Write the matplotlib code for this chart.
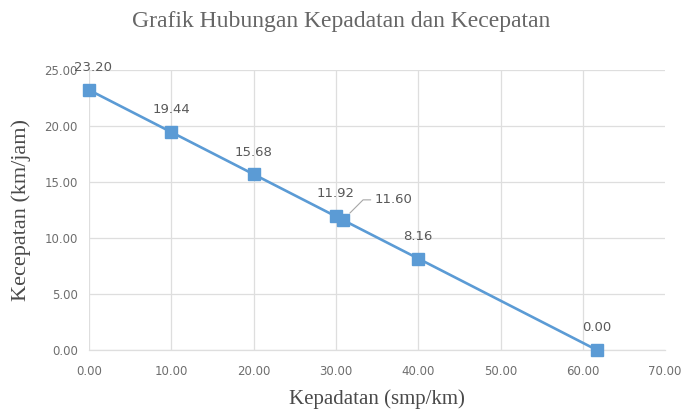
import matplotlib.pyplot as plt

# Density (smp/km) and speed (km/jam) observations
kepadatan = [0.00, 10.00, 20.00, 30.00, 30.85, 40.00, 61.70]
kecepatan = [23.20, 19.44, 15.68, 11.92, 11.60, 8.16, 0.00]
x_ticks = [0, 10, 20, 30, 40, 50, 60, 70]
y_ticks = [0, 5, 10, 15, 20, 25]

line_color = "#5B9BD5"
tick_color = "#6E6E6E"
label_color = "#595959"
grid_color = "#DEDEDE"

fig = plt.figure(figsize=(6.85, 4.12), dpi=100)
ax = fig.add_axes([0.130, 0.1505, 0.841, 0.680])

ax.plot(kepadatan, kecepatan, color=line_color, linewidth=1.9,
        marker="s", markersize=9, markerfacecolor=line_color,
        markeredgecolor=line_color, zorder=3, clip_on=False)

ax.set_xlim(0, 70)
ax.set_ylim(0, 25)
ax.set_xticks(x_ticks)
ax.set_yticks(y_ticks)
ax.set_xticklabels([f"{v:.2f}" for v in x_ticks])
ax.set_yticklabels([f"{v:.2f}" for v in y_ticks])
ax.tick_params(axis="x", length=0, labelsize=8.5, colors=tick_color, pad=11)
ax.tick_params(axis="y", length=0, labelsize=8.5, colors=tick_color, pad=8)
for lbl in ax.get_xticklabels() + ax.get_yticklabels():
    lbl.set_fontfamily("DejaVu Sans")

ax.grid(True, color=grid_color, linewidth=0.9)
ax.get_xgridlines()[-1].set_visible(False)
ax.set_axisbelow(True)
for side in ["top", "right", "left"]:
    ax.spines[side].set_visible(False)
ax.spines["bottom"].set_color(grid_color)
ax.spines["bottom"].set_linewidth(0.9)

# Value labels above each point
offsets = {0: (3, 16), 1: (0, 16), 2: (0, 16), 3: (0, 16.5), 5: (0, 16), 6: (0, 16.5)}
for i, (xv, yv) in enumerate(zip(kepadatan, kecepatan)):
    if i == 4:
        ax.annotate(f"{yv:.2f}", xy=(xv, yv), xytext=(23, 14.5),
                    textcoords="offset points", ha="left", va="center",
                    fontsize=9.5, color=label_color, family="DejaVu Sans",
                    arrowprops=dict(arrowstyle="-", color="#A6A6A6", lw=0.8,
                                    shrinkA=1, shrinkB=7,
                                    connectionstyle="angle,angleA=180,angleB=45,rad=0"))
        continue
    dx, dy = offsets[i]
    ax.annotate(f"{yv:.2f}", xy=(xv, yv), xytext=(dx, dy),
                textcoords="offset points", ha="center", va="center",
                fontsize=9.5, color=label_color, family="DejaVu Sans")

ax.set_xlabel("Kepadatan (smp/km)", family="Liberation Serif", fontsize=15,
              color="#4A4A4A", labelpad=8)
ax.set_ylabel("Kecepatan (km/jam)", family="Liberation Serif", fontsize=16,
              color="#4A4A4A", labelpad=10)
fig.text(0.498, 0.948, "Grafik Hubungan Kepadatan dan Kecepatan",
         family="Liberation Serif", fontsize=17, color="#666666",
         ha="center", va="center")

fig.savefig("out.png", dpi=100)
